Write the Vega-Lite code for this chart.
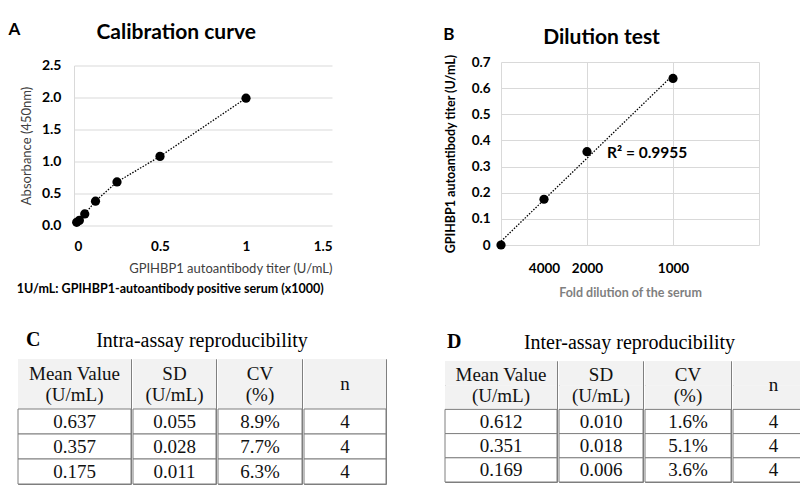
{
  "$schema": "https://vega.github.io/schema/vega-lite/v6.json",
  "padding": {"left": 8, "top": 20, "right": 5, "bottom": 5},
  "background": "#ffffff",
  "datasets": {
    "calib": [
      {"titer": 0.015625, "absorbance": 0.05},
      {"titer": 0.03125, "absorbance": 0.08},
      {"titer": 0.0625, "absorbance": 0.18},
      {"titer": 0.125, "absorbance": 0.38},
      {"titer": 0.25, "absorbance": 0.68},
      {"titer": 0.5, "absorbance": 1.08},
      {"titer": 1, "absorbance": 1.99}
    ],
    "dilution": [
      {"dilution": "none", "relconc": 0, "titer": 0},
      {"dilution": "4000", "relconc": 0.25, "titer": 0.175},
      {"dilution": "2000", "relconc": 0.5, "titer": 0.357},
      {"dilution": "1000", "relconc": 1, "titer": 0.637}
    ],
    "tabC": [
      {"col": "mean", "row": "h1", "text": "Mean Value\n(U/mL)"},
      {"col": "mean", "row": "h2", "text": ""},
      {"col": "mean", "row": "r1", "text": "0.637"},
      {"col": "mean", "row": "r2", "text": "0.357"},
      {"col": "mean", "row": "r3", "text": "0.175"},
      {"col": "sd", "row": "h1", "text": "SD\n(U/mL)"},
      {"col": "sd", "row": "h2", "text": ""},
      {"col": "sd", "row": "r1", "text": "0.055"},
      {"col": "sd", "row": "r2", "text": "0.028"},
      {"col": "sd", "row": "r3", "text": "0.011"},
      {"col": "cv", "row": "h1", "text": "CV\n(%)"},
      {"col": "cv", "row": "h2", "text": ""},
      {"col": "cv", "row": "r1", "text": "8.9%"},
      {"col": "cv", "row": "r2", "text": "7.7%"},
      {"col": "cv", "row": "r3", "text": "6.3%"},
      {"col": "n", "row": "h1", "text": "n"},
      {"col": "n", "row": "h2", "text": ""},
      {"col": "n", "row": "r1", "text": "4"},
      {"col": "n", "row": "r2", "text": "4"},
      {"col": "n", "row": "r3", "text": "4"}
    ],
    "tabD": [
      {"col": "mean", "row": "h1", "text": "Mean Value\n(U/mL)"},
      {"col": "mean", "row": "h2", "text": ""},
      {"col": "mean", "row": "r1", "text": "0.612"},
      {"col": "mean", "row": "r2", "text": "0.351"},
      {"col": "mean", "row": "r3", "text": "0.169"},
      {"col": "sd", "row": "h1", "text": "SD\n(U/mL)"},
      {"col": "sd", "row": "h2", "text": ""},
      {"col": "sd", "row": "r1", "text": "0.010"},
      {"col": "sd", "row": "r2", "text": "0.018"},
      {"col": "sd", "row": "r3", "text": "0.006"},
      {"col": "cv", "row": "h1", "text": "CV\n(%)"},
      {"col": "cv", "row": "h2", "text": ""},
      {"col": "cv", "row": "r1", "text": "1.6%"},
      {"col": "cv", "row": "r2", "text": "5.1%"},
      {"col": "cv", "row": "r3", "text": "3.6%"},
      {"col": "n", "row": "h1", "text": "n"},
      {"col": "n", "row": "h2", "text": ""},
      {"col": "n", "row": "r1", "text": "4"},
      {"col": "n", "row": "r2", "text": "4"},
      {"col": "n", "row": "r3", "text": "4"}
    ]
  },
  "center": true,
  "spacing": 30,
  "vconcat": [
    {
      "center": true,
      "spacing": 111,
      "hconcat": [
        {
          "title": {"text": "1U/mL: GPIHBP1-autoantibody positive serum (x1000)", "orient": "bottom", "anchor": "middle", "frame": "bounds", "fontSize": 12.5, "fontWeight": "bold", "color": "#000000", "offset": 8},
          "vconcat": [
            {
              "title": {"text": "A", "orient": "top", "anchor": "start", "frame": "bounds", "baseline": "top", "offset": -17, "dx": -12, "fontSize": 17, "fontWeight": "bold", "color": "#000000"},
              "vconcat": [
                {
                  "width": 258,
                  "height": 160,
                  "title": {"text": "Calibration curve", "fontSize": 21, "fontWeight": "bold", "color": "#000000", "anchor": "middle", "frame": "bounds", "offset": 16},
                  "data": {"name": "calib"},
                  "encoding": {
                    "x": {"field": "titer", "type": "quantitative", "scale": {"domain": [0, 1.5], "nice": false},
                      "axis": {"values": [0, 0.5, 1, 1.5], "format": ".1~f", "grid": false, "domain": false, "ticks": false, "labelFontWeight": "bold", "labelFontSize": 13.5, "labelPadding": 14, "labelColor": "#000000", "labelOverlap": false, "title": "GPIHBP1 autoantibody titer (U/mL)", "titleFontWeight": "normal", "titleFontSize": 13, "titleColor": "#404040", "titlePadding": 9, "titleAnchor": "end"}},
                    "y": {"field": "absorbance", "type": "quantitative", "scale": {"domain": [0, 2.5], "nice": false},
                      "axis": {"values": [0, 0.5, 1, 1.5, 2, 2.5], "format": ".1f", "grid": true, "gridColor": "#d9d9d9", "domain": true, "domainColor": "#d9d9d9", "ticks": false, "labelFontWeight": "bold", "labelFontSize": 14, "labelPadding": 13, "labelColor": "#000000", "labelOverlap": false, "title": "Absorbance (450nm)", "titleFontWeight": "normal", "titleFontSize": 13, "titleColor": "#404040", "titlePadding": 8}}
                  },
                  "layer": [
                    {"mark": {"type": "line", "color": "#000000", "strokeDash": [1.5, 1.5], "strokeWidth": 1.3}},
                    {"mark": {"type": "circle", "color": "#000000", "opacity": 1, "size": 85}}
                  ]
                }
              ]
            }
          ]
        },
        {
          "title": {"text": "B", "orient": "top", "anchor": "start", "frame": "bounds", "baseline": "top", "offset": -17, "dx": -1, "fontSize": 17, "fontWeight": "bold", "color": "#000000"},
          "vconcat": [
            {
              "width": 258,
              "height": 183,
              "title": {"text": "Dilution test", "fontSize": 21, "fontWeight": "bold", "color": "#000000", "anchor": "middle", "frame": "bounds", "offset": 6},
              "data": {"name": "dilution"},
              "encoding": {
                "x": {"field": "relconc", "type": "quantitative", "scale": {"domain": [0, 1.5], "nice": false},
                  "axis": {"values": [0, 0.25, 0.5, 1, 1.5], "labelExpr": "datum.value == 0.25 ? '4000' : datum.value == 0.5 ? '2000' : datum.value == 1 ? '1000' : ''", "grid": true, "gridColor": {"condition": {"test": "datum.value == 0.25", "value": "transparent"}, "value": "#d9d9d9"}, "domain": false, "ticks": false, "labelFontWeight": "bold", "labelFontSize": 13.5, "labelPadding": 16, "labelColor": "#000000", "labelOverlap": false, "title": "Fold dilution of the serum", "titleFontWeight": "bold", "titleFontSize": 12.5, "titleColor": "#7f7f7f", "titlePadding": 12}},
                "y": {"field": "titer", "type": "quantitative", "scale": {"domain": [0, 0.7], "nice": false},
                  "axis": {"values": [0, 0.1, 0.2, 0.3, 0.4, 0.5, 0.6, 0.7], "format": "~g", "grid": true, "gridColor": "#d9d9d9", "domain": false, "ticks": false, "labelFontWeight": "bold", "labelFontSize": 13.5, "labelPadding": 11, "labelColor": "#000000", "labelOverlap": false, "title": "GPIHBP1 autoantibody titer (U/mL)", "titleFontWeight": "bold", "titleFontSize": 12.5, "titleColor": "#000000", "titlePadding": 14}}
              },
              "layer": [
                {
                  "transform": [{"regression": "titer", "on": "relconc"}],
                  "mark": {"type": "line", "color": "#000000", "strokeDash": [1.5, 1.5], "strokeWidth": 1.3}
                },
                {
                  "mark": {"type": "circle", "color": "#000000", "opacity": 1, "size": 85}
                },
                {
                  "transform": [{"filter": "datum.dilution == '2000'"}],
                  "mark": {"type": "text", "align": "left", "baseline": "middle", "dx": 20, "dy": 1, "fontSize": 15.5, "fontWeight": "bold", "color": "#000000"},
                  "encoding": {
                    "text": {"value": "R² = 0.9955"}
                  }
                }
              ]
            }
          ]
        }
      ]
    },
    {
      "center": true,
      "spacing": 57,
      "hconcat": [
        {
          "title": {"text": "C", "orient": "top", "anchor": "start", "frame": "bounds", "baseline": "top", "offset": -19, "dx": 9, "font": "Liberation Serif", "fontSize": 20, "fontWeight": "bold", "color": "#000000"},
          "vconcat": [
            {
              "title": {"text": "Intra-assay reproducibility", "font": "Liberation Serif", "fontSize": 20, "fontWeight": "normal", "color": "#000000", "anchor": "middle", "frame": "bounds", "offset": 8},
              "spacing": 0,
              "hconcat": [
                {
                  "width": 113, "height": 125, "view": {"stroke": "#7f7f7f"},
                  "data": {"name": "tabC"}, "transform": [{"filter": "datum.col == 'mean'"}],
                  "layer": [
                    {"mark": {"type": "rect", "stroke": "#7f7f7f", "strokeWidth": 1}, "encoding": {"y": {"field": "row", "type": "nominal", "scale": {"domain": ["h1", "h2", "r1", "r2", "r3"], "paddingInner": 0, "paddingOuter": 0}, "axis": null}, "fill": {"condition": {"test": "datum.row == 'h1' || datum.row == 'h2'", "value": "#f2f2f2"}, "value": "#ffffff"}, "strokeOpacity": {"condition": {"test": "datum.row == 'h1' || datum.row == 'h2'", "value": 0}, "value": 1}}},
                    {"transform": [{"filter": "datum.row == 'h1'"}], "mark": {"type": "text", "lineBreak": "\n", "lineHeight": 21, "dy": -10.5, "font": "Liberation Serif", "fontSize": 19, "color": "#111111"}, "encoding": {"y": {"field": "row", "type": "nominal", "bandPosition": 1, "scale": {"domain": ["h1", "h2", "r1", "r2", "r3"], "paddingInner": 0, "paddingOuter": 0}, "axis": null}, "text": {"field": "text"}}},
                    {"transform": [{"filter": "datum.row != 'h1' && datum.row != 'h2'"}], "mark": {"type": "text", "font": "Liberation Serif", "fontSize": 19, "color": "#111111"}, "encoding": {"y": {"field": "row", "type": "nominal", "scale": {"domain": ["h1", "h2", "r1", "r2", "r3"], "paddingInner": 0, "paddingOuter": 0}, "axis": null}, "text": {"field": "text"}}}
                  ]
                },
                {
                  "width": 83, "height": 125, "view": {"stroke": "#7f7f7f"},
                  "data": {"name": "tabC"}, "transform": [{"filter": "datum.col == 'sd'"}],
                  "layer": [
                    {"mark": {"type": "rect", "stroke": "#7f7f7f", "strokeWidth": 1}, "encoding": {"y": {"field": "row", "type": "nominal", "scale": {"domain": ["h1", "h2", "r1", "r2", "r3"], "paddingInner": 0, "paddingOuter": 0}, "axis": null}, "fill": {"condition": {"test": "datum.row == 'h1' || datum.row == 'h2'", "value": "#f2f2f2"}, "value": "#ffffff"}, "strokeOpacity": {"condition": {"test": "datum.row == 'h1' || datum.row == 'h2'", "value": 0}, "value": 1}}},
                    {"transform": [{"filter": "datum.row == 'h1'"}], "mark": {"type": "text", "lineBreak": "\n", "lineHeight": 21, "dy": -10.5, "font": "Liberation Serif", "fontSize": 19, "color": "#111111"}, "encoding": {"y": {"field": "row", "type": "nominal", "bandPosition": 1, "scale": {"domain": ["h1", "h2", "r1", "r2", "r3"], "paddingInner": 0, "paddingOuter": 0}, "axis": null}, "text": {"field": "text"}}},
                    {"transform": [{"filter": "datum.row != 'h1' && datum.row != 'h2'"}], "mark": {"type": "text", "font": "Liberation Serif", "fontSize": 19, "color": "#111111"}, "encoding": {"y": {"field": "row", "type": "nominal", "scale": {"domain": ["h1", "h2", "r1", "r2", "r3"], "paddingInner": 0, "paddingOuter": 0}, "axis": null}, "text": {"field": "text"}}}
                  ]
                },
                {
                  "width": 84, "height": 125, "view": {"stroke": "#7f7f7f"},
                  "data": {"name": "tabC"}, "transform": [{"filter": "datum.col == 'cv'"}],
                  "layer": [
                    {"mark": {"type": "rect", "stroke": "#7f7f7f", "strokeWidth": 1}, "encoding": {"y": {"field": "row", "type": "nominal", "scale": {"domain": ["h1", "h2", "r1", "r2", "r3"], "paddingInner": 0, "paddingOuter": 0}, "axis": null}, "fill": {"condition": {"test": "datum.row == 'h1' || datum.row == 'h2'", "value": "#f2f2f2"}, "value": "#ffffff"}, "strokeOpacity": {"condition": {"test": "datum.row == 'h1' || datum.row == 'h2'", "value": 0}, "value": 1}}},
                    {"transform": [{"filter": "datum.row == 'h1'"}], "mark": {"type": "text", "lineBreak": "\n", "lineHeight": 21, "dy": -10.5, "font": "Liberation Serif", "fontSize": 19, "color": "#111111"}, "encoding": {"y": {"field": "row", "type": "nominal", "bandPosition": 1, "scale": {"domain": ["h1", "h2", "r1", "r2", "r3"], "paddingInner": 0, "paddingOuter": 0}, "axis": null}, "text": {"field": "text"}}},
                    {"transform": [{"filter": "datum.row != 'h1' && datum.row != 'h2'"}], "mark": {"type": "text", "font": "Liberation Serif", "fontSize": 19, "color": "#111111"}, "encoding": {"y": {"field": "row", "type": "nominal", "scale": {"domain": ["h1", "h2", "r1", "r2", "r3"], "paddingInner": 0, "paddingOuter": 0}, "axis": null}, "text": {"field": "text"}}}
                  ]
                },
                {
                  "width": 82, "height": 125, "view": {"stroke": "#7f7f7f"},
                  "data": {"name": "tabC"}, "transform": [{"filter": "datum.col == 'n'"}],
                  "layer": [
                    {"mark": {"type": "rect", "stroke": "#7f7f7f", "strokeWidth": 1}, "encoding": {"y": {"field": "row", "type": "nominal", "scale": {"domain": ["h1", "h2", "r1", "r2", "r3"], "paddingInner": 0, "paddingOuter": 0}, "axis": null}, "fill": {"condition": {"test": "datum.row == 'h1' || datum.row == 'h2'", "value": "#f2f2f2"}, "value": "#ffffff"}, "strokeOpacity": {"condition": {"test": "datum.row == 'h1' || datum.row == 'h2'", "value": 0}, "value": 1}}},
                    {"transform": [{"filter": "datum.row == 'h1'"}], "mark": {"type": "text", "font": "Liberation Serif", "fontSize": 19, "color": "#111111"}, "encoding": {"y": {"field": "row", "type": "nominal", "bandPosition": 1, "scale": {"domain": ["h1", "h2", "r1", "r2", "r3"], "paddingInner": 0, "paddingOuter": 0}, "axis": null}, "text": {"field": "text"}}},
                    {"transform": [{"filter": "datum.row != 'h1' && datum.row != 'h2'"}], "mark": {"type": "text", "font": "Liberation Serif", "fontSize": 19, "color": "#111111"}, "encoding": {"y": {"field": "row", "type": "nominal", "scale": {"domain": ["h1", "h2", "r1", "r2", "r3"], "paddingInner": 0, "paddingOuter": 0}, "axis": null}, "text": {"field": "text"}}}
                  ]
                }
              ]
            }
          ]
        },
        {
          "title": {"text": "D", "orient": "top", "anchor": "start", "frame": "bounds", "baseline": "top", "offset": -19, "dx": 3, "font": "Liberation Serif", "fontSize": 20, "fontWeight": "bold", "color": "#000000"},
          "vconcat": [
            {
              "title": {"text": "Inter-assay reproducibility", "font": "Liberation Serif", "fontSize": 20, "fontWeight": "normal", "color": "#000000", "anchor": "middle", "frame": "bounds", "offset": 8},
              "spacing": 0,
              "hconcat": [
                {
                  "width": 112, "height": 121, "view": {"stroke": "#7f7f7f"},
                  "data": {"name": "tabD"}, "transform": [{"filter": "datum.col == 'mean'"}],
                  "layer": [
                    {"mark": {"type": "rect", "stroke": "#7f7f7f", "strokeWidth": 1}, "encoding": {"y": {"field": "row", "type": "nominal", "scale": {"domain": ["h1", "h2", "r1", "r2", "r3"], "paddingInner": 0, "paddingOuter": 0}, "axis": null}, "fill": {"condition": {"test": "datum.row == 'h1' || datum.row == 'h2'", "value": "#f2f2f2"}, "value": "#ffffff"}, "strokeOpacity": {"condition": {"test": "datum.row == 'h1' || datum.row == 'h2'", "value": 0}, "value": 1}}},
                    {"transform": [{"filter": "datum.row == 'h1'"}], "mark": {"type": "text", "lineBreak": "\n", "lineHeight": 21, "dy": -10.5, "font": "Liberation Serif", "fontSize": 19, "color": "#111111"}, "encoding": {"y": {"field": "row", "type": "nominal", "bandPosition": 1, "scale": {"domain": ["h1", "h2", "r1", "r2", "r3"], "paddingInner": 0, "paddingOuter": 0}, "axis": null}, "text": {"field": "text"}}},
                    {"transform": [{"filter": "datum.row != 'h1' && datum.row != 'h2'"}], "mark": {"type": "text", "font": "Liberation Serif", "fontSize": 19, "color": "#111111"}, "encoding": {"y": {"field": "row", "type": "nominal", "scale": {"domain": ["h1", "h2", "r1", "r2", "r3"], "paddingInner": 0, "paddingOuter": 0}, "axis": null}, "text": {"field": "text"}}}
                  ]
                },
                {
                  "width": 84, "height": 121, "view": {"stroke": "#7f7f7f"},
                  "data": {"name": "tabD"}, "transform": [{"filter": "datum.col == 'sd'"}],
                  "layer": [
                    {"mark": {"type": "rect", "stroke": "#7f7f7f", "strokeWidth": 1}, "encoding": {"y": {"field": "row", "type": "nominal", "scale": {"domain": ["h1", "h2", "r1", "r2", "r3"], "paddingInner": 0, "paddingOuter": 0}, "axis": null}, "fill": {"condition": {"test": "datum.row == 'h1' || datum.row == 'h2'", "value": "#f2f2f2"}, "value": "#ffffff"}, "strokeOpacity": {"condition": {"test": "datum.row == 'h1' || datum.row == 'h2'", "value": 0}, "value": 1}}},
                    {"transform": [{"filter": "datum.row == 'h1'"}], "mark": {"type": "text", "lineBreak": "\n", "lineHeight": 21, "dy": -10.5, "font": "Liberation Serif", "fontSize": 19, "color": "#111111"}, "encoding": {"y": {"field": "row", "type": "nominal", "bandPosition": 1, "scale": {"domain": ["h1", "h2", "r1", "r2", "r3"], "paddingInner": 0, "paddingOuter": 0}, "axis": null}, "text": {"field": "text"}}},
                    {"transform": [{"filter": "datum.row != 'h1' && datum.row != 'h2'"}], "mark": {"type": "text", "font": "Liberation Serif", "fontSize": 19, "color": "#111111"}, "encoding": {"y": {"field": "row", "type": "nominal", "scale": {"domain": ["h1", "h2", "r1", "r2", "r3"], "paddingInner": 0, "paddingOuter": 0}, "axis": null}, "text": {"field": "text"}}}
                  ]
                },
                {
                  "width": 86, "height": 121, "view": {"stroke": "#7f7f7f"},
                  "data": {"name": "tabD"}, "transform": [{"filter": "datum.col == 'cv'"}],
                  "layer": [
                    {"mark": {"type": "rect", "stroke": "#7f7f7f", "strokeWidth": 1}, "encoding": {"y": {"field": "row", "type": "nominal", "scale": {"domain": ["h1", "h2", "r1", "r2", "r3"], "paddingInner": 0, "paddingOuter": 0}, "axis": null}, "fill": {"condition": {"test": "datum.row == 'h1' || datum.row == 'h2'", "value": "#f2f2f2"}, "value": "#ffffff"}, "strokeOpacity": {"condition": {"test": "datum.row == 'h1' || datum.row == 'h2'", "value": 0}, "value": 1}}},
                    {"transform": [{"filter": "datum.row == 'h1'"}], "mark": {"type": "text", "lineBreak": "\n", "lineHeight": 21, "dy": -10.5, "font": "Liberation Serif", "fontSize": 19, "color": "#111111"}, "encoding": {"y": {"field": "row", "type": "nominal", "bandPosition": 1, "scale": {"domain": ["h1", "h2", "r1", "r2", "r3"], "paddingInner": 0, "paddingOuter": 0}, "axis": null}, "text": {"field": "text"}}},
                    {"transform": [{"filter": "datum.row != 'h1' && datum.row != 'h2'"}], "mark": {"type": "text", "font": "Liberation Serif", "fontSize": 19, "color": "#111111"}, "encoding": {"y": {"field": "row", "type": "nominal", "scale": {"domain": ["h1", "h2", "r1", "r2", "r3"], "paddingInner": 0, "paddingOuter": 0}, "axis": null}, "text": {"field": "text"}}}
                  ]
                },
                {
                  "width": 81, "height": 121, "view": {"stroke": "#7f7f7f"},
                  "data": {"name": "tabD"}, "transform": [{"filter": "datum.col == 'n'"}],
                  "layer": [
                    {"mark": {"type": "rect", "stroke": "#7f7f7f", "strokeWidth": 1}, "encoding": {"y": {"field": "row", "type": "nominal", "scale": {"domain": ["h1", "h2", "r1", "r2", "r3"], "paddingInner": 0, "paddingOuter": 0}, "axis": null}, "fill": {"condition": {"test": "datum.row == 'h1' || datum.row == 'h2'", "value": "#f2f2f2"}, "value": "#ffffff"}, "strokeOpacity": {"condition": {"test": "datum.row == 'h1' || datum.row == 'h2'", "value": 0}, "value": 1}}},
                    {"transform": [{"filter": "datum.row == 'h1'"}], "mark": {"type": "text", "font": "Liberation Serif", "fontSize": 19, "color": "#111111"}, "encoding": {"y": {"field": "row", "type": "nominal", "bandPosition": 1, "scale": {"domain": ["h1", "h2", "r1", "r2", "r3"], "paddingInner": 0, "paddingOuter": 0}, "axis": null}, "text": {"field": "text"}}},
                    {"transform": [{"filter": "datum.row != 'h1' && datum.row != 'h2'"}], "mark": {"type": "text", "font": "Liberation Serif", "fontSize": 19, "color": "#111111"}, "encoding": {"y": {"field": "row", "type": "nominal", "scale": {"domain": ["h1", "h2", "r1", "r2", "r3"], "paddingInner": 0, "paddingOuter": 0}, "axis": null}, "text": {"field": "text"}}}
                  ]
                }
              ]
            }
          ]
        }
      ]
    }
  ],
  "config": {
    "font": "Lato",
    "view": {"stroke": null},
    "title": {"font": "Lato", "color": "#000000"},
    "axis": {"labelFont": "Lato", "titleFont": "Lato"}
  }
}
